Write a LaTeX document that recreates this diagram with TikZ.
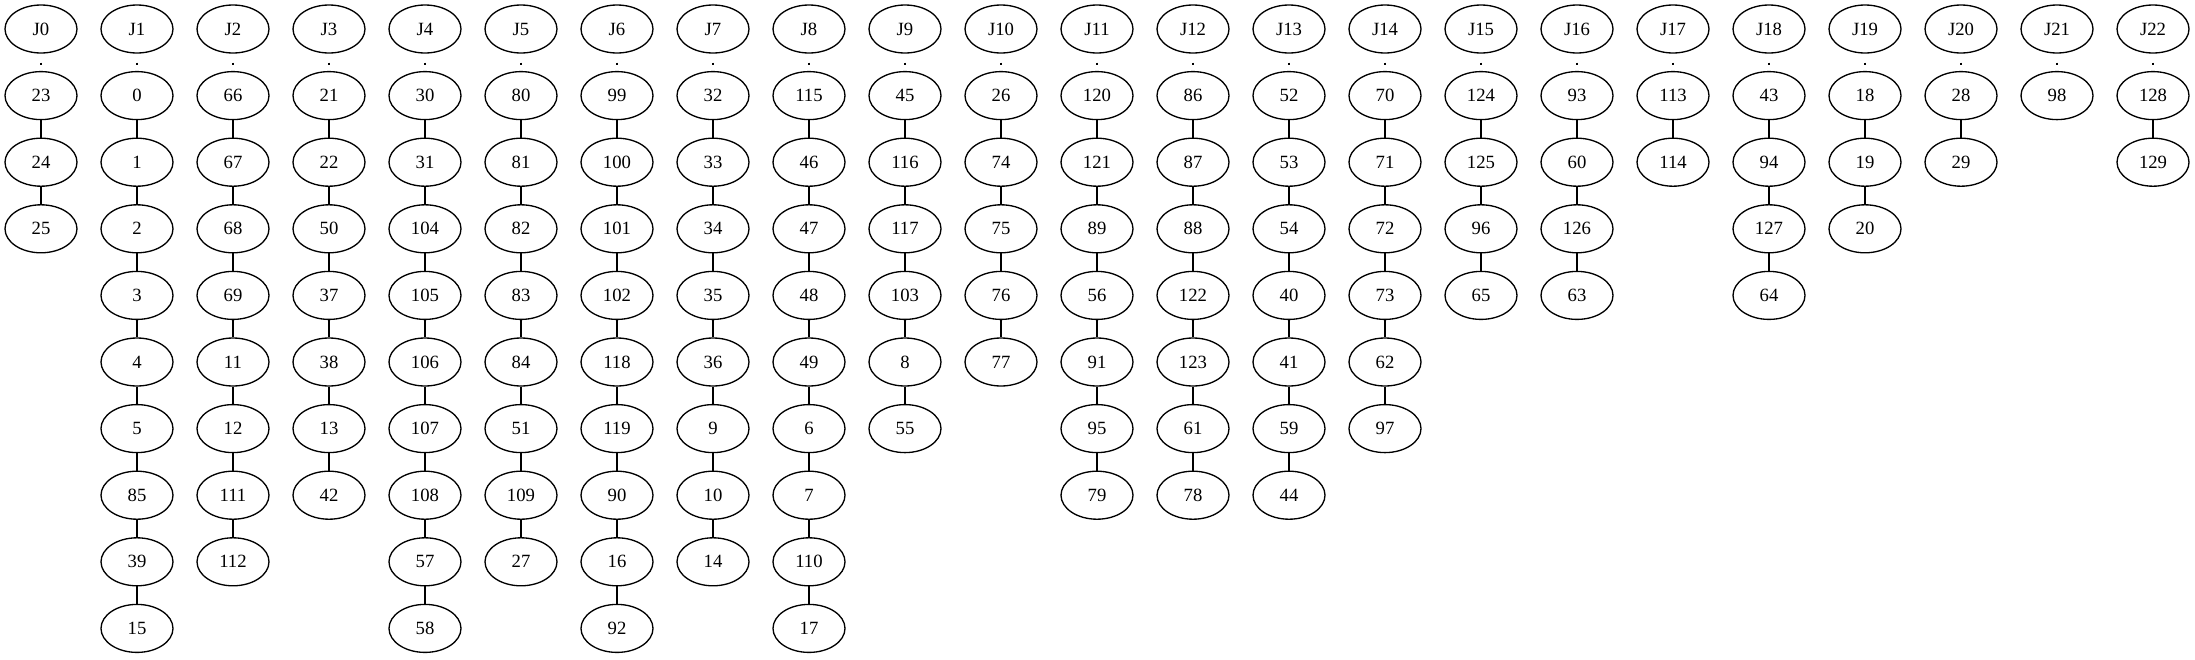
\documentclass[tikz,border=0pt]{standalone}
\usepackage{fontspec}
\setmainfont{Liberation Serif}
\usetikzlibrary{shapes.geometric}
\tikzset{
  vtx/.style={ellipse, draw, line width=1.33pt, minimum width=72pt, minimum height=48pt, inner sep=0pt, font=\fontsize{18.7}{22}\selectfont},
  edg/.style={line width=1.33pt},
  dotedg/.style={line width=1.33pt, dash pattern=on 2pt off 30pt, dash phase=23pt}
}
\begin{document}
\begin{tikzpicture}[x=1pt,y=-1pt]
\useasboundingbox (0,0) rectangle (2195,659);
\foreach \c/\lst in {
 0/{23,24,25},
 1/{0,1,2,3,4,5,85,39,15},
 2/{66,67,68,69,11,12,111,112},
 3/{21,22,50,37,38,13,42},
 4/{30,31,104,105,106,107,108,57,58},
 5/{80,81,82,83,84,51,109,27},
 6/{99,100,101,102,118,119,90,16,92},
 7/{32,33,34,35,36,9,10,14},
 8/{115,46,47,48,49,6,7,110,17},
 9/{45,116,117,103,8,55},
 10/{26,74,75,76,77},
 11/{120,121,89,56,91,95,79},
 12/{86,87,88,122,123,61,78},
 13/{52,53,54,40,41,59,44},
 14/{70,71,72,73,62,97},
 15/{124,125,96,65},
 16/{93,60,126,63},
 17/{113,114},
 18/{43,94,127,64},
 19/{18,19,20},
 20/{28,29},
 21/{98},
 22/{128,129}}{
  \node[vtx] (J\c) at ({41+96*\c},29) {J\c};
  \foreach \v [count=\r, remember=\v as \pv (initially none)] in \lst {
    \node[vtx] (n\v) at ({41+96*\c},{29+66.6*\r}) {\v};
    \ifnum\r=1
      \draw[dotedg] (J\c) -- (n\v);
    \else
      \draw[edg] (n\pv) -- (n\v);
    \fi
  }
}
\end{tikzpicture}
\end{document}
